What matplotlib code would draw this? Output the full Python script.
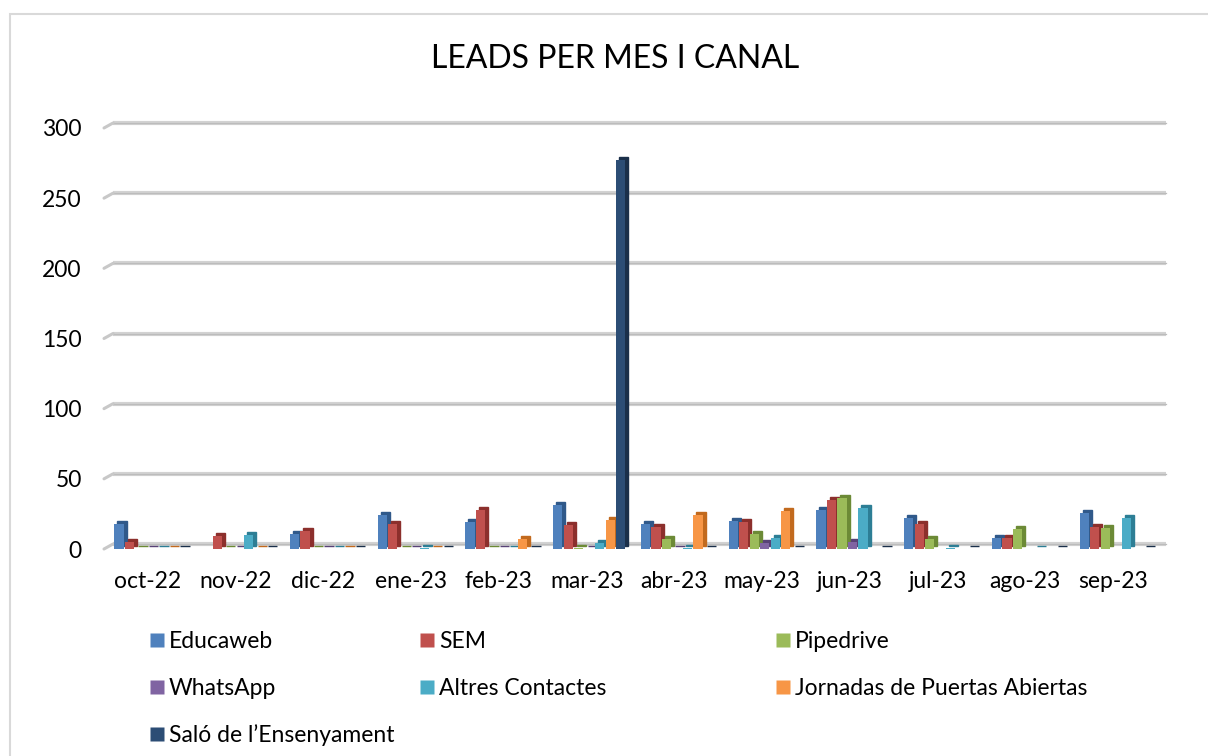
import numpy as np
import matplotlib.pyplot as plt
from matplotlib.patches import Rectangle
from matplotlib.transforms import ScaledTranslation
from matplotlib.lines import Line2D

plt.rcParams["font.family"] = ["Lato", "DejaVu Sans"]

# ---------------------------------------------------------------
# data
# ---------------------------------------------------------------
months = ["oct-22", "nov-22", "dic-22", "ene-23", "feb-23", "mar-23",
          "abr-23", "may-23", "jun-23", "jul-23", "ago-23", "sep-23"]

series_names = ["Educaweb", "SEM", "Pipedrive", "WhatsApp",
                "Altres Contactes", "Jornadas de Puertas Abiertas",
                "Saló de l\u2019Ensenyament"]

nan = np.nan
educaweb = [18, nan, 11, 24, 19, 31, 18, 20, 28, 22, 8, 26]
sem = [5, 9, 13, 18, 28, 17, 16, 19, 35, 18, 8, 16]
pipedrive = [0, 0, 0, 0, 0, 1, 7, 11, 36, 7, 14, 15]
whatsapp = [0, 0, 0, 0, 0, 0, 0, 4, 5, nan, nan, nan]
altres = [0, 10, 0, 1, 0, 4, 1, 8, 29, 1, 0, 22]
jornadas = [0, 0, 0, 0, 7, 21, 24, 27, nan, nan, nan, nan]
salo = [0, 0, 0, 0, 0, 277, 0, 0, 0, 0, 0, 0]

series_values = [educaweb, sem, pipedrive, whatsapp, altres, jornadas, salo]

colors = ["#4F81BD", "#C0504D", "#9BBB59", "#8064A2",
          "#4BACC6", "#F79646", "#2C4D75"]
side_colors = ["#30598A", "#8C2F2C", "#6C8A36", "#584276",
               "#2D7E95", "#C26A1E", "#1A2F4A"]

# ---------------------------------------------------------------
# figure
# ---------------------------------------------------------------
W, H = 1208, 756
DPI = 100
fig = plt.figure(figsize=(W / DPI, H / DPI), dpi=DPI)

# chart border (cut off at right and bottom like the screenshot)
fig.patches.append(Rectangle((10 / W, -0.1), 1.2, 1 - 14 / H + 0.1,
                             transform=fig.transFigure, fill=False,
                             edgecolor="#d9d9d9", linewidth=1.5))

ax = fig.add_axes([104 / W, 1 - 549 / H, (1157 - 104) / W, (549 - 128) / H])
ax.set_xlim(-0.5, 11.5)
ax.set_ylim(0, 300)
for s in ax.spines.values():
    s.set_visible(False)

# back wall gridlines with the little 3D kink at the left
back = ax.get_yaxis_transform() + ScaledTranslation(9 / DPI, 5 / DPI, fig.dpi_scale_trans)
front = ax.get_yaxis_transform()
yticks = [0, 50, 100, 150, 200, 250, 300]
for v in yticks:
    ax.plot([0, 1.0], [v, v], transform=back, color="#d2d2d2",
            linewidth=3.0, solid_capstyle="butt", zorder=0, clip_on=False)
    ax.plot([0, 1.0], [v, v], transform=back, color="#bcbcbc",
            linewidth=0.9, zorder=0, clip_on=False)
    ax.annotate("", xy=(0, v), xycoords=back, xytext=(0, v), textcoords=front,
                arrowprops=dict(arrowstyle="-", color="#c8c8c8", linewidth=2.2,
                                shrinkA=0, shrinkB=0),
                annotation_clip=False, zorder=0)

# bars with a pseudo 3D side/top face
x = np.arange(len(months))
step = 0.12
width = 0.105
depth = ScaledTranslation(3 / DPI, 3 / DPI, fig.dpi_scale_trans)
for i, (vals, c, sc) in enumerate(zip(series_values, colors, side_colors)):
    pos = x + (i - 3) * step + 0.03
    vals = np.asarray(vals, dtype=float)
    ax.bar(pos, vals, width=width, color=sc, edgecolor=sc, linewidth=1.0,
           transform=ax.transData + depth, zorder=2 + i * 2, clip_on=False)
    ax.bar(pos, vals, width=width, color=c, edgecolor="none",
           zorder=3 + i * 2, clip_on=False)

ax.set_xticks(x)
ax.set_xticklabels(months, fontsize=16.5)
ax.set_yticks(yticks)
ax.set_yticklabels([str(v) for v in yticks], fontsize=16.5)
ax.tick_params(axis="x", length=0, pad=16)
ax.tick_params(axis="y", length=0, pad=16)

fig.text(615 / W, 1 - 59 / H, "LEADS PER MES I CANAL", ha="center",
         va="center", fontsize=23)

# legend laid out row by row like Excel (three columns)
handles = [Line2D([0], [0], marker="s", linestyle="none", markersize=10,
                  markerfacecolor=c, markeredgecolor="none") for c in colors]
columns = [([0, 3, 6], 150), ([1, 4], 420), ([2, 5], 776)]
for idx, xpix in columns:
    fig.legend([handles[k] for k in idx], [series_names[k] for k in idx],
               loc="upper left", bbox_to_anchor=(xpix / W, 1 - 631 / H),
               frameon=False, fontsize=16.5, handlelength=0.6,
               handletextpad=0.22, labelspacing=1.12, borderpad=0,
               borderaxespad=0)

fig.savefig("out.png", dpi=DPI)
